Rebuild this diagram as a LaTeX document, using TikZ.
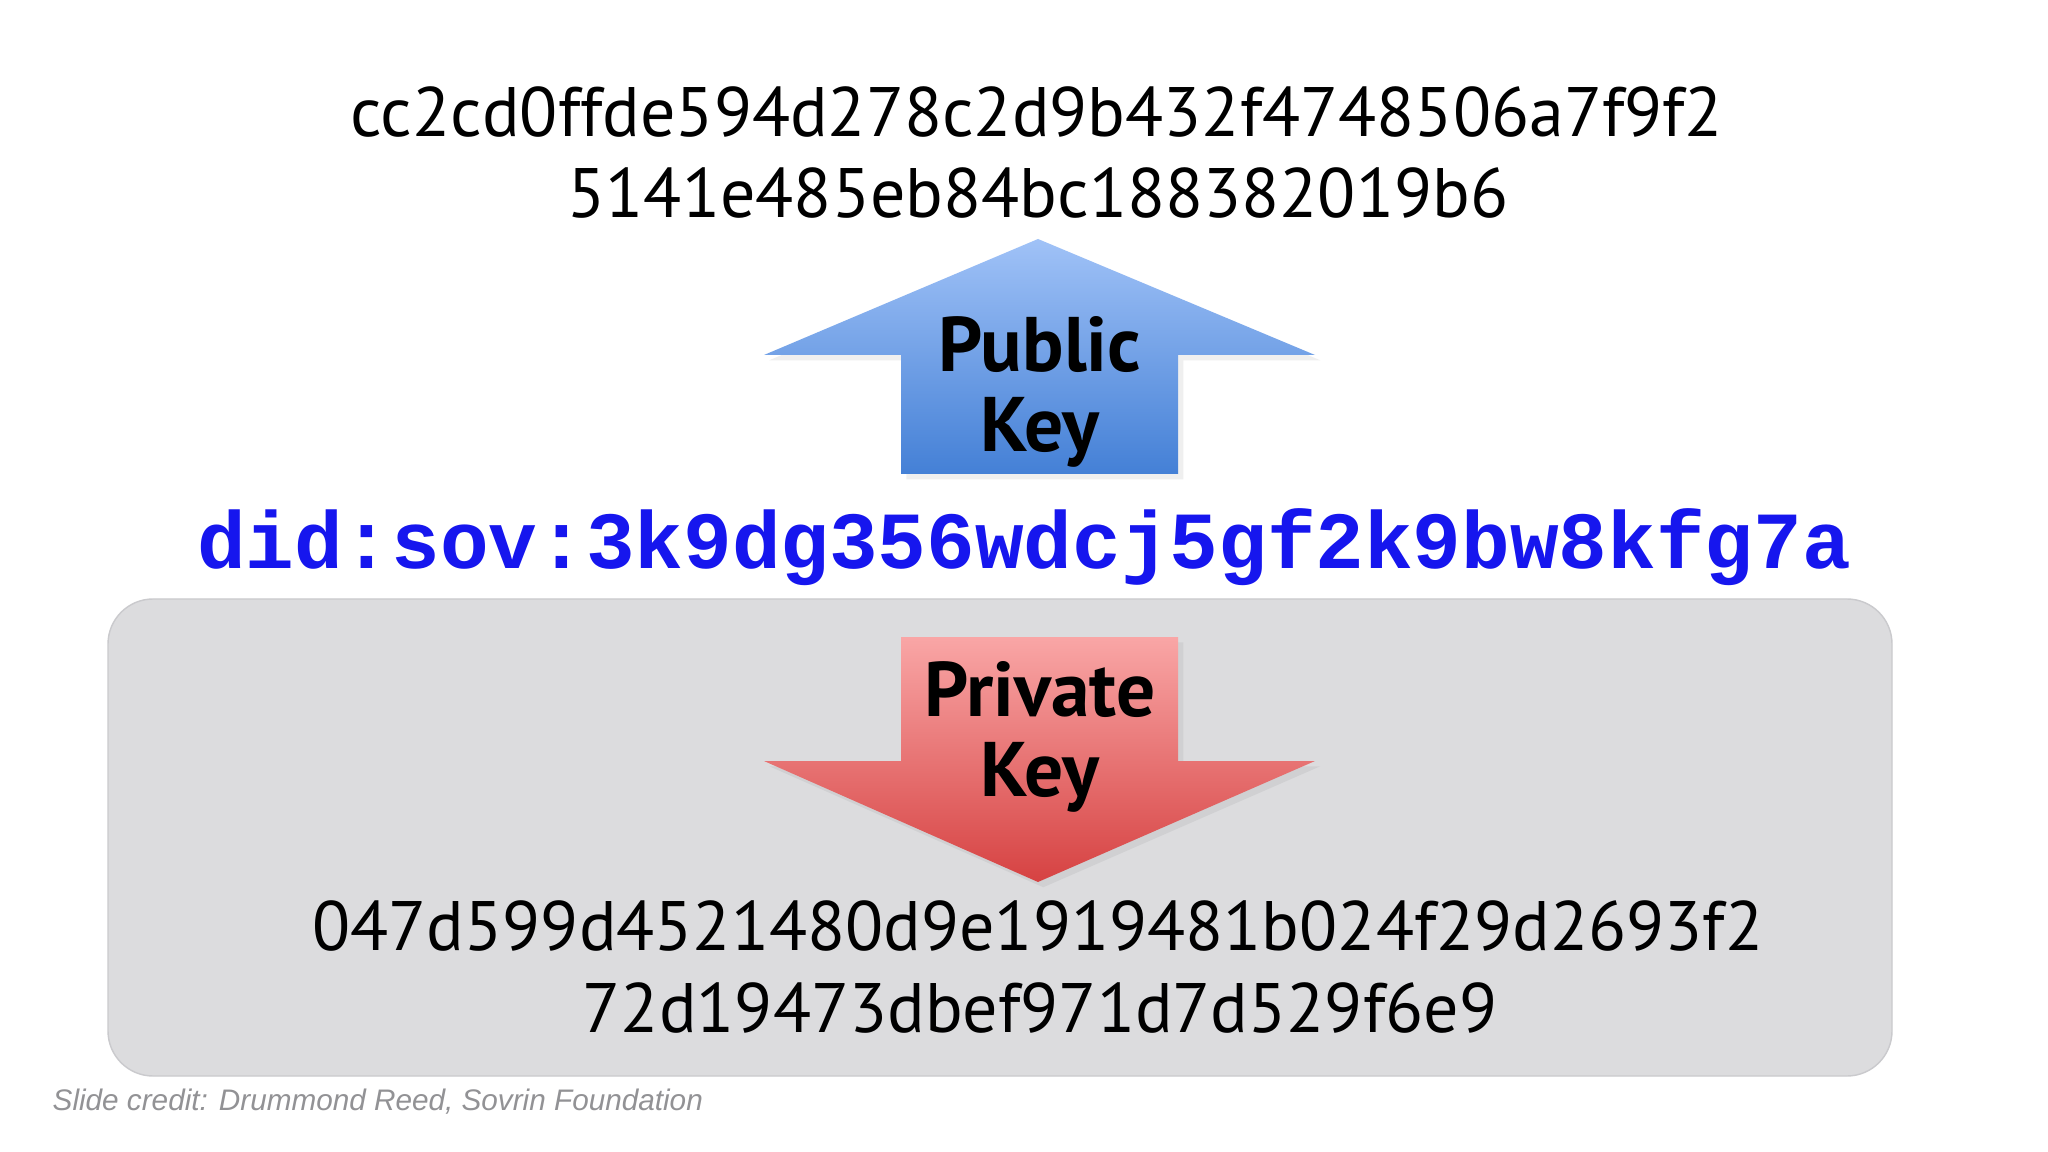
\documentclass[tikz,border=0pt]{standalone}
\usepackage{fontspec}
\setmainfont{PT Sans}
\setmonofont{Liberation Mono}
\newfontfamily\creditfont{Liberation Sans}
\usetikzlibrary{shadows}

\definecolor{didblue}{RGB}{22,22,238}
\definecolor{boxgray}{RGB}{220,220,222}
\definecolor{boxedge}{RGB}{202,202,205}
\definecolor{pubtop}{RGB}{160,194,247}
\definecolor{pubbot}{RGB}{68,128,214}
\definecolor{privtop}{RGB}{249,166,166}
\definecolor{privbot}{RGB}{214,66,66}
\definecolor{creditgray}{RGB}{146,146,149}

\tikzset{
	hexline/.style={anchor=base, inner sep=0pt, font=\fontsize{19.9}{22}\selectfont},
	keylabel/.style={align=center, inner sep=0pt, font=\bfseries\fontsize{22}{22.8}\selectfont},
	keyarrow/.style={drop shadow={opacity=0.12, shadow xshift=1.5pt, shadow yshift=-1.5pt}},
}

\begin{document}
\begin{tikzpicture}[x=0.01cm, y=-0.01cm]
		% Fondo
		\fill[white] (0,0) rectangle (2048,1152);
		\useasboundingbox (0,0) rectangle (2048,1152);
		
		% Caja privada
		\draw[boxedge, fill=boxgray, rounded corners=4.5mm] (108,599) rectangle (1892,1076);
		
		% Clave publica
		\node[hexline] (pubA) at (1037,137) {cc2cd0ffde594d278c2d9b432f4748506a7f9f2};
		\node[hexline] (pubB) at (1038,218) {5141e485eb84bc188382019b6};
		\path[keyarrow, top color=pubtop, bottom color=pubbot] (1038,239) -- (1315,355) -- (1178,355) -- (1178,474) -- (901,474) -- (901,355) -- (764,355) -- cycle;
		\node[keylabel] (publab) at (1040,392) {Public\\Key};
		
		% DID
		\node[anchor=base, inner sep=0pt, text=didblue, font=\ttfamily\bfseries\fontsize{23.05}{26}\selectfont] (did) at (1024,568) {did:sov:3k9dg356wdcj5gf2k9bw8kfg7a};
		
		% Clave privada
		\path[keyarrow, top color=privtop, bottom color=privbot] (901,637) -- (1178,637) -- (1178,761) -- (1315,761) -- (1038,882) -- (764,761) -- (901,761) -- cycle;
		\node[keylabel] (privlab) at (1040,737) {Private\\Key};
		\node[hexline] (privA) at (1038,950) {047d599d4521480d9e1919481b024f29d2693f2};
		\node[hexline] (privB) at (1040,1032) {72d19473dbef971d7d529f6e9};
		
		% Credito
		\node[anchor=base west, inner sep=0pt, text=creditgray, font=\creditfont\itshape\fontsize{8.45}{10}\selectfont] (credit) at (52,1110) {Slide credit: Drummond Reed, Sovrin Foundation};
	\end{tikzpicture}
\end{document}
